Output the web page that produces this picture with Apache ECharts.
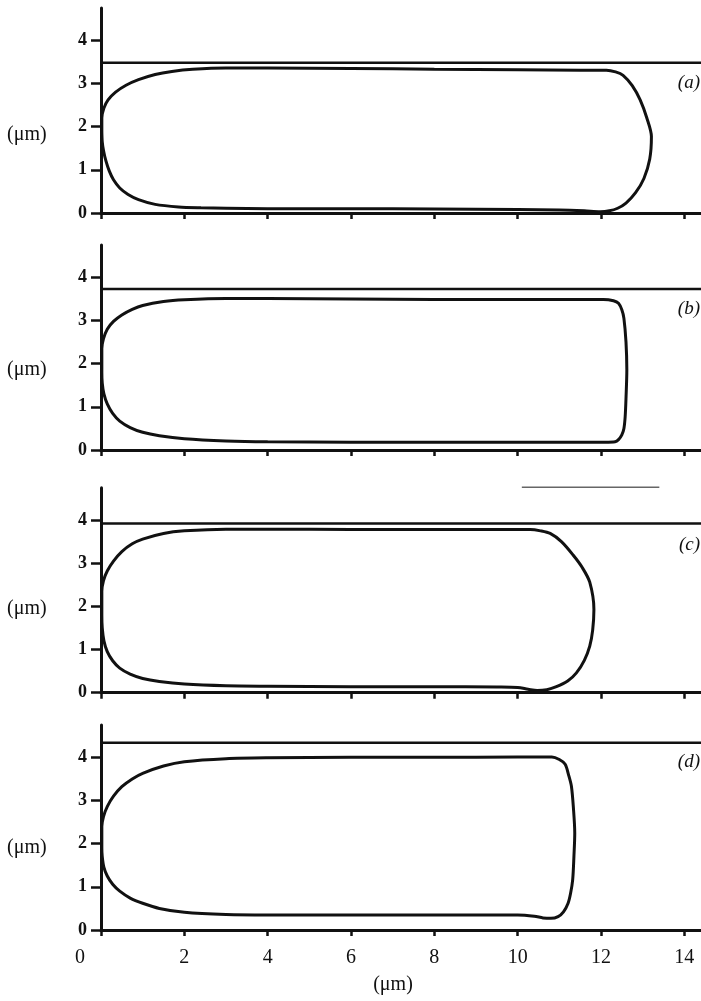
<!DOCTYPE html>
<html><head><meta charset="utf-8">
<script src="https://cdn.jsdelivr.net/npm/echarts@6/dist/echarts.min.js"></script>
<style>html,body{margin:0;padding:0;background:#fff}#c{width:701px;height:1001px}</style>
</head><body><div id="c"></div>
<script>
const panelLabels = ['(a)', '(b)', '(c)', '(d)'];
const axisUnit = '(μm)';
const xTicks = [0, 2, 4, 6, 8, 10, 12, 14];
const yTicks = [0, 1, 2, 3, 4];
const xMax = 14.4;
const yMax = 4.75;

// channel wall heights (µm)
const walls = [3.48, 3.73, 3.92, 4.34];

// cell outlines (x, y in µm)
const shapeA = [[0.02,1.9],[0.02,2.2],[0.07,2.43],[0.17,2.62],[0.35,2.8],[0.6,2.96],[0.9,3.09],[1.3,3.21],[1.7,3.28],[2.2,3.33],[3,3.36],[4,3.36],[6,3.35],[8,3.33],[10,3.32],[11.5,3.31],[12.13,3.31],[12.35,3.27],[12.53,3.19],[12.75,2.95],[12.94,2.62],[13.1,2.2],[13.21,1.77],[13.17,1.25],[13.03,0.8],[12.83,0.47],[12.6,0.23],[12.4,0.11],[12.2,0.05],[11.98,0.03],[11.6,0.05],[11,0.07],[10,0.08],[8,0.09],[6,0.1],[4,0.1],[3,0.11],[2.4,0.12],[1.86,0.14],[1.3,0.2],[0.9,0.31],[0.65,0.43],[0.45,0.58],[0.3,0.77],[0.2,0.97],[0.12,1.2],[0.06,1.45],[0.03,1.65],[0.02,1.9]];
const shapeB = [[0.02,2.0],[0.02,2.35],[0.06,2.58],[0.15,2.8],[0.3,2.98],[0.5,3.13],[0.75,3.26],[1,3.35],[1.5,3.44],[2,3.48],[3,3.51],[4,3.51],[6,3.5],[8,3.49],[10,3.49],[11.5,3.49],[12.06,3.49],[12.3,3.46],[12.42,3.4],[12.5,3.25],[12.55,3.05],[12.6,2.5],[12.62,1.86],[12.6,1.2],[12.58,0.77],[12.55,0.5],[12.5,0.35],[12.42,0.24],[12.34,0.19],[12.1,0.18],[11,0.18],[10,0.18],[8,0.18],[6,0.18],[4,0.19],[3,0.21],[2,0.26],[1.4,0.33],[1,0.41],[0.7,0.52],[0.45,0.67],[0.28,0.85],[0.15,1.07],[0.07,1.3],[0.03,1.55],[0.02,1.8],[0.02,2.0]];
const shapeC = [[0.02,2.0],[0.02,2.35],[0.06,2.6],[0.15,2.82],[0.3,3.05],[0.5,3.27],[0.75,3.45],[1,3.56],[1.5,3.69],[2,3.75],[3,3.79],[4,3.79],[6,3.78],[8,3.78],[9.5,3.78],[10.3,3.78],[10.55,3.75],[10.78,3.69],[11.05,3.5],[11.33,3.19],[11.55,2.9],[11.73,2.56],[11.83,1.93],[11.8,1.45],[11.73,1.08],[11.6,0.75],[11.41,0.46],[11.2,0.27],[10.93,0.14],[10.7,0.07],[10.47,0.05],[10.25,0.08],[10,0.12],[9.5,0.13],[8,0.14],[6,0.14],[4,0.15],[3,0.16],[2,0.2],[1.4,0.26],[1,0.33],[0.7,0.43],[0.45,0.57],[0.28,0.74],[0.15,0.95],[0.07,1.2],[0.03,1.5],[0.02,1.8],[0.02,2.0]];
const shapeD = [[0.02,2.1],[0.02,2.4],[0.06,2.63],[0.15,2.86],[0.3,3.1],[0.5,3.32],[0.75,3.5],[1,3.63],[1.5,3.8],[2,3.9],[3,3.97],[4,3.99],[6,4.0],[8,4.0],[10,4.01],[10.82,4.01],[11.0,3.95],[11.14,3.84],[11.22,3.6],[11.29,3.33],[11.34,2.8],[11.37,2.25],[11.35,1.7],[11.32,1.16],[11.27,0.85],[11.21,0.62],[11.1,0.42],[10.97,0.31],[10.8,0.27],[10.61,0.28],[10.4,0.32],[10,0.35],[8,0.35],[6,0.35],[4,0.35],[3,0.36],[2,0.41],[1.4,0.5],[1,0.62],[0.7,0.74],[0.45,0.9],[0.28,1.06],[0.15,1.25],[0.07,1.45],[0.03,1.7],[0.02,1.9],[0.02,2.1]];
const shapes = [shapeA, shapeB, shapeC, shapeD];

// faint scan stroke above panel (c)
const strayC = [[10.1,4.76],[13.4,4.76]];

const gridTops = [8, 245, 487.7, 725];
const labelTops = [73, 299, 535, 752];
const unitTops = [125, 360, 599, 838];
const INK = '#111';
const SERIF = '"Liberation Serif", "DejaVu Serif", serif';

const grids = [], xAxes = [], yAxes = [], series = [], titles = [];
for (let i = 0; i < 4; i++) {
  grids.push({ left: 101, right: 0, top: gridTops[i], height: 205, containLabel: false });
  const last = i === 3;
  xAxes.push({
    type: 'value', gridIndex: i, min: 0, max: xMax,
    axisLine: { show: true, onZero: false, lineStyle: { color: INK, width: 3 } },
    axisTick: { show: true, customValues: xTicks, length: 6, lineStyle: { color: INK, width: 2.5 } },
    axisLabel: {
      show: last, customValues: xTicks, margin: 18, color: INK, fontFamily: SERIF, fontSize: 20,
      formatter: v => v === 0 ? '{z|0}' : String(v),
      rich: { z: { fontFamily: SERIF, fontSize: 20, color: INK, padding: [0, 42, 0, 0] } }
    },
    splitLine: { show: false },
    name: last ? axisUnit : '', nameLocation: 'middle', nameGap: 45,
    nameTextStyle: { color: INK, fontFamily: SERIF, fontSize: 20, padding: [0, 16, 0, 0] }
  });
  yAxes.push({
    type: 'value', gridIndex: i, min: 0, max: yMax,
    axisLine: { show: true, onZero: false, lineStyle: { color: INK, width: 3 } },
    axisTick: { show: true, customValues: yTicks, length: 10, lineStyle: { color: INK, width: 2.5 } },
    axisLabel: { customValues: yTicks, margin: 14, color: INK, fontFamily: SERIF, fontSize: 18, fontWeight: 'bold' },
    splitLine: { show: false }
  });
  series.push({
    type: 'line', xAxisIndex: i, yAxisIndex: i, data: shapes[i],
    showSymbol: false, smooth: 0.3, clip: false,
    lineStyle: { color: INK, width: 3 }
  });
  series.push({
    type: 'line', xAxisIndex: i, yAxisIndex: i, data: [[0, walls[i]], [xMax, walls[i]]],
    showSymbol: false, clip: false,
    lineStyle: { color: INK, width: 2.5 }
  });
  titles.push({
    text: panelLabels[i], right: 1, top: labelTops[i],
    textStyle: { fontFamily: SERIF, fontStyle: 'italic', fontWeight: 'normal', fontSize: 19, color: INK },
    padding: 0
  });
  titles.push({
    text: axisUnit, left: 7, top: unitTops[i],
    textStyle: { fontFamily: SERIF, fontWeight: 'normal', fontSize: 20, color: INK },
    padding: 0
  });
}
series.push({
  type: 'line', xAxisIndex: 2, yAxisIndex: 2, data: strayC,
  showSymbol: false, clip: false,
  lineStyle: { color: '#666', width: 1.5 }
});

const chart = echarts.init(document.getElementById('c'), null, { renderer: 'canvas' });
chart.setOption({
  backgroundColor: '#fff',
  animation: false,
  title: titles,
  grid: grids,
  xAxis: xAxes,
  yAxis: yAxes,
  series: series
});
</script></body></html>
